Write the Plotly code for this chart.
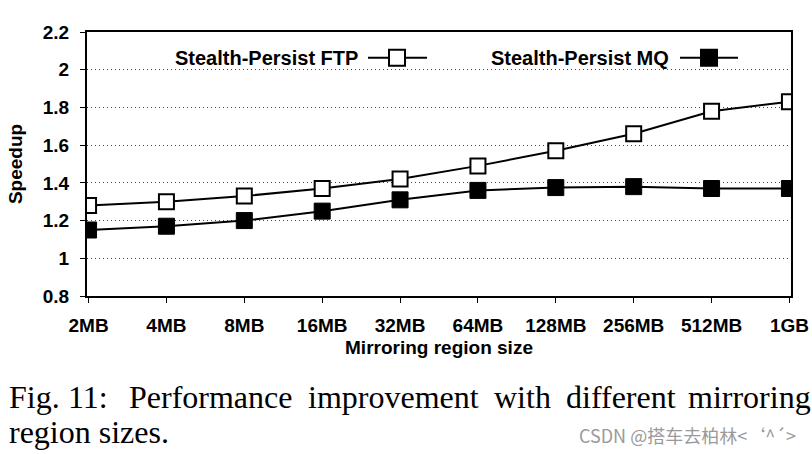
import plotly.graph_objects as go

categories = ["2MB", "4MB", "8MB", "16MB", "32MB", "64MB", "128MB", "256MB", "512MB", "1GB"]
ftp_speedup = [1.28, 1.30, 1.33, 1.37, 1.42, 1.49, 1.57, 1.66, 1.78, 1.83]
mq_speedup = [1.15, 1.17, 1.20, 1.25, 1.31, 1.36, 1.375, 1.38, 1.37, 1.37]
series_names = ["Stealth-Persist FTP", "Stealth-Persist MQ"]
y_ticks = [0.8, 1.0, 1.2, 1.4, 1.6, 1.8, 2.0, 2.2]
y_ticklabels = ["0.8", "1", "1.2", "1.4", "1.6", "1.8", "2", "2.2"]
caption_line1 = ["Fig.", "11:", "Performance", "improvement", "with", "different", "mirroring"]
caption_line2 = "region sizes."
watermark = "CSDN @搭车去柏林<‘^´>"

W, H = 812, 454
L, R, T, B = 87, 21, 32, 158
PW, PH = W - L - R, H - T - B


def px(x):
    return (x - L) / PW


def py(y):
    return (H - B - y) / PH


SANS = "Liberation Sans, Arial, sans-serif"
SERIF = "Liberation Serif, Times New Roman, serif"

fig = go.Figure()

fig.add_trace(go.Scatter(
    x=categories, y=ftp_speedup, mode="lines+markers", name=series_names[0],
    line=dict(color="black", width=2),
    marker=dict(symbol="square", size=15, color="white", line=dict(color="black", width=2)),
    showlegend=False,
))
fig.add_trace(go.Scatter(
    x=categories, y=mq_speedup, mode="lines+markers", name=series_names[1],
    line=dict(color="black", width=2),
    marker=dict(symbol="square", size=16, color="black", line=dict(color="black", width=1)),
    showlegend=False,
))

# custom legend (text left, symbol right) on an overlay axis in plot fractions
legend_y = py(57.7)
legend_items = [
    (series_names[0], 173, 368, 427, 397, "white"),
    (series_names[1], 489, 680, 738, 709, "black"),
]
for name, tx, lx0, lx1, mx, fillc in legend_items:
    fig.add_trace(go.Scatter(
        x=[px(lx0), px(mx), px(lx1)], y=[legend_y] * 3, mode="lines",
        line=dict(color="black", width=2), xaxis="x2", yaxis="y2",
        showlegend=False, hoverinfo="skip",
    ))
    fig.add_trace(go.Scatter(
        x=[px(mx)], y=[legend_y], mode="markers", xaxis="x2", yaxis="y2",
        marker=dict(symbol="square", size=16, color=fillc, line=dict(color="black", width=2)),
        showlegend=False, hoverinfo="skip",
    ))
    fig.add_annotation(
        x=px(tx), y=legend_y, xref="paper", yref="paper", xanchor="left", yanchor="middle",
        text=name, showarrow=False, font=dict(family=SANS, size=20, color="black", weight="bold"),
    )

fig.add_shape(type="rect", xref="paper", yref="paper",
              x0=px(126), x1=px(748), y0=py(78), y1=py(40),
              fillcolor="white", line=dict(width=0), layer="between")

# caption (justified first line)
cap_x = [7, 66, 127, 306, 492, 564, 686]
for word, x in zip(caption_line1, cap_x):
    fig.add_annotation(x=px(x), y=py(397), xref="paper", yref="paper", xanchor="left",
                       yanchor="middle", text=word, showarrow=False,
                       font=dict(family=SERIF, size=32, color="black"))
fig.add_annotation(x=px(7), y=py(432), xref="paper", yref="paper", xanchor="left",
                   yanchor="middle", text=caption_line2, showarrow=False,
                   font=dict(family=SERIF, size=32, color="black"))
fig.add_annotation(x=px(798), y=py(435), xref="paper", yref="paper", xanchor="right",
                   yanchor="middle", text=watermark, showarrow=False,
                   font=dict(family="Noto Sans CJK SC", size=18, color="#9a9a9a"))

fig.update_layout(
    width=W, height=H, margin=dict(l=L, r=R, t=T, b=B, autoexpand=False),
    paper_bgcolor="white", plot_bgcolor="white", showlegend=False,
    xaxis=dict(
        type="category", range=[-0.02, 9.02], showgrid=False,
        showline=True, linecolor="black", linewidth=2, mirror=True,
        ticks="outside", ticklen=5, tickwidth=1, tickcolor="black",
        tickfont=dict(family=SANS, size=19, color="black", weight="bold"),
        ticklabelstandoff=6,
        title=dict(text="Mirroring region size", standoff=6,
                   font=dict(family=SANS, size=19, color="black", weight="bold")),
    ),
    yaxis=dict(
        range=[0.8, 2.2], tickvals=y_ticks, ticktext=y_ticklabels,
        showgrid=True, gridcolor="#444444", griddash="1px,3px", gridwidth=1,
        showline=True, linecolor="black", linewidth=2, mirror=True,
        ticks="outside", ticklen=5, tickwidth=1, tickcolor="black",
        tickfont=dict(family=SANS, size=19, color="black", weight="bold"),
        ticklabelstandoff=7, zeroline=False,
        title=dict(text="Speedup", standoff=15,
                   font=dict(family=SANS, size=19, color="black", weight="bold")),
    ),
    xaxis2=dict(overlaying="x", range=[0, 1], visible=False),
    yaxis2=dict(overlaying="y", range=[0, 1], visible=False),
)

fig.write_html("out.html", config={"displayModeBar": False},
               post_script="document.body.style.margin='0';document.body.style.overflow='hidden';")
